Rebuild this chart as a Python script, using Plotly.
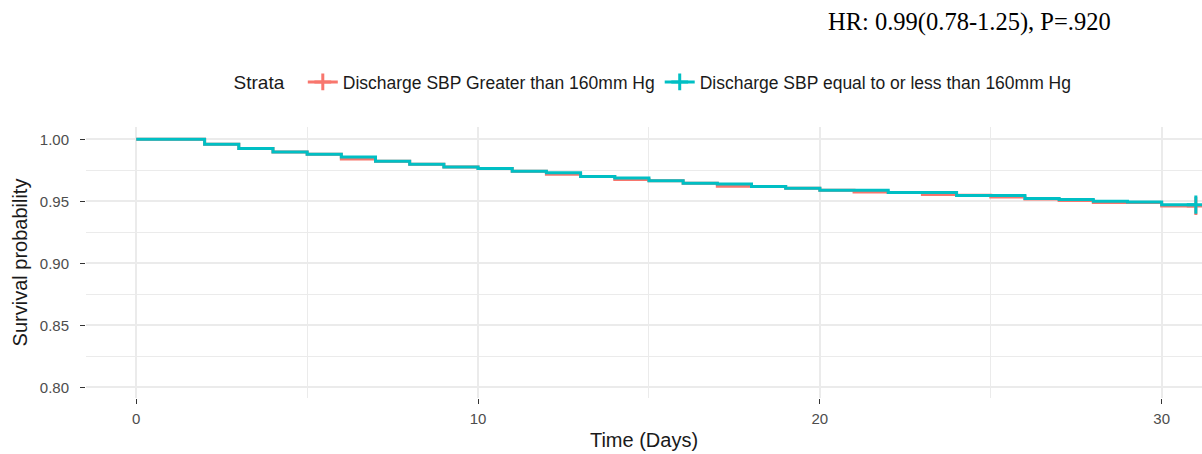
import plotly.graph_objects as go

# Data (Kaplan-Meier step curves)
days = list(range(0, 32))
surv_gt160 = [1.000, 1.000, 0.9960, 0.9925, 0.9898, 0.9879, 0.9841, 0.9823, 0.9798, 0.9777,
              0.9764, 0.9742, 0.9718, 0.9700, 0.9675, 0.9666, 0.9646, 0.9622, 0.9619, 0.9605,
              0.9589, 0.9575, 0.9570, 0.9554, 0.9548, 0.9535, 0.9518, 0.9506, 0.9490, 0.9490,
              0.9462, 0.9462]
surv_le160 = [1.000, 1.000, 0.9960, 0.9925, 0.9898, 0.9879, 0.9857, 0.9823, 0.9798, 0.9777,
              0.9764, 0.9742, 0.9731, 0.9700, 0.9688, 0.9666, 0.9646, 0.9639, 0.9619, 0.9605,
              0.9589, 0.9589, 0.9570, 0.9570, 0.9546, 0.9546, 0.9522, 0.9514, 0.9500, 0.9494,
              0.9473, 0.9473]
names = ["Discharge SBP Greater than 160mm Hg", "Discharge SBP equal to or less than 160mm Hg"]
colors = ["#F8766D", "#00BFC4"]
x_ticks = [0, 10, 20, 30]
y_ticks = [0.80, 0.85, 0.90, 0.95, 1.00]
y_ticktext = ["0.80", "0.85", "0.90", "0.95", "1.00"]
annotation_text = "HR: 0.99(0.78-1.25), P=.920"

fig = go.Figure()
for name, ys, col in zip(names, [surv_gt160, surv_le160], colors):
    fig.add_trace(go.Scatter(x=days, y=ys, mode="lines", line=dict(color=col, width=3, shape="hv"),
                             showlegend=False, hoverinfo="skip", cliponaxis=True))
    fig.add_trace(go.Scatter(x=[days[-1]], y=[ys[-1]], mode="markers",
                             marker=dict(symbol="cross-thin", size=13, line=dict(color=col, width=3)),
                             showlegend=False, hoverinfo="skip"))
for name, col in zip(names, colors):
    fig.add_trace(go.Scatter(x=[None], y=[None], mode="lines+markers", name=name,
                             line=dict(color=col, width=3),
                             marker=dict(symbol="cross-thin", size=12, line=dict(color=col, width=3))))

grid = "#EBEBEB"
fig.update_layout(
    width=1202, height=454,
    margin=dict(l=86, r=0, t=127, b=56),
    plot_bgcolor="white", paper_bgcolor="white",
    font=dict(family="Liberation Sans, Arial, sans-serif", color="#1a1a1a"),
    legend=dict(orientation="h", x=0.509, xanchor="center", y=1.166, yanchor="middle",
                title=dict(text="Strata  ", font=dict(size=19, color="#1a1a1a")),
                font=dict(size=17.5, color="#1a1a1a"), itemwidth=30, bgcolor="rgba(0,0,0,0)"),
    xaxis=dict(range=[-1.47, 31.18], tickvals=x_ticks, ticks="outside", ticklen=5, tickcolor="#333333",
               tickfont=dict(size=15, color="#4D4D4D"), showgrid=True, gridcolor=grid, gridwidth=1.5,
               zeroline=False, showline=False, ticklabelstandoff=2,
               minor=dict(dtick=5, tick0=0, showgrid=True, gridcolor=grid, gridwidth=1, ticks=""),
               title=dict(text="Time (Days)", font=dict(size=20, color="#1a1a1a"), standoff=6)),
    yaxis=dict(range=[0.7914, 1.0099], tickvals=y_ticks, ticktext=y_ticktext,
               ticks="outside", ticklen=5, tickcolor="#333333",
               tickfont=dict(size=15, color="#4D4D4D"), showgrid=True, gridcolor=grid, gridwidth=1.5,
               zeroline=False, showline=False, ticklabelstandoff=8,
               minor=dict(dtick=0.025, tick0=0.8, showgrid=True, gridcolor=grid, gridwidth=1, ticks=""),
               title=dict(text="Survival probability", font=dict(size=20, color="#1a1a1a"), standoff=6)),
    annotations=[dict(text=annotation_text, xref="paper", yref="paper", x=0.663, y=1.387,
                      xanchor="left", yanchor="middle", showarrow=False,
                      font=dict(family="Liberation Serif, Times New Roman, serif", size=24.5, color="black"))],
)
fig.write_html("out.html", config={"displayModeBar": False},
               post_script="document.body.style.margin='0';document.body.style.padding='0';")
